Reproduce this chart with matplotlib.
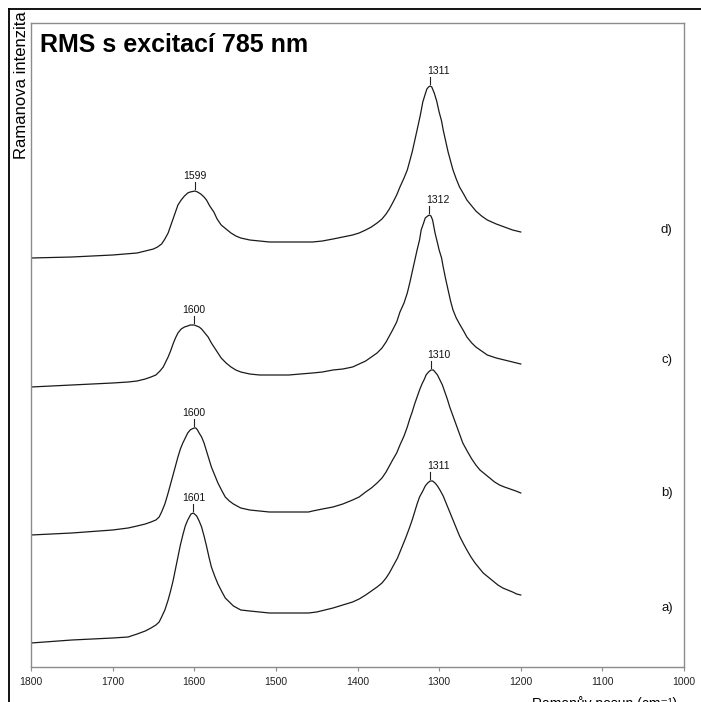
import matplotlib
matplotlib.use("Agg")
import matplotlib.pyplot as plt
from matplotlib.lines import Line2D
import numpy as np

plt.rcParams["font.family"] = ["Liberation Sans", "DejaVu Sans"]

# Raman spectra (wavenumber in cm-1, intensity in arbitrary stacked units)
shift_a = [1800, 1750, 1700, 1681, 1670, 1660, 1653, 1647, 1643, 1640, 1636, 1632, 1629, 1626,
           1623, 1620, 1617, 1614, 1611, 1608, 1604, 1601, 1597, 1594, 1591, 1588, 1585, 1582,
           1579, 1575, 1571, 1566, 1562, 1557, 1552, 1543, 1532, 1520, 1508, 1497, 1484, 1470,
           1460, 1450, 1440, 1430, 1418, 1406, 1398, 1390, 1383, 1376, 1370, 1365, 1361, 1357,
           1351, 1346, 1341, 1336, 1333, 1330, 1327, 1324, 1320, 1317, 1314, 1311, 1308, 1305,
           1302, 1299, 1295, 1291, 1287, 1283, 1279, 1275, 1270, 1266, 1261, 1256, 1251, 1246,
           1240, 1234, 1228, 1222, 1216, 1210, 1205, 1200]
inten_a = [24, 27, 29, 30, 33, 36, 39, 42, 45, 50, 57, 67, 76, 86,
           98, 110, 122, 132, 141, 147, 153, 154, 151, 146, 140, 131, 121, 110,
           100, 91, 83, 75, 69, 65, 61, 57, 56, 55, 54, 54, 54, 54,
           54, 55, 57, 59, 62, 65, 68, 72, 76, 80, 84, 89, 94, 100,
           109, 119, 129, 140, 147, 155, 163, 170, 176, 181, 184, 186, 186, 184,
           181, 177, 171, 163, 155, 147, 139, 131, 123, 117, 110, 104, 99, 94,
           90, 86, 82, 79, 77, 75, 73, 72]

shift_b = [1800, 1750, 1700, 1681, 1670, 1660, 1653, 1647, 1643, 1640, 1636, 1632, 1629, 1626,
           1623, 1620, 1617, 1614, 1611, 1608, 1605, 1603, 1600, 1598, 1596, 1594, 1591, 1588,
           1585, 1582, 1579, 1575, 1571, 1566, 1562, 1557, 1552, 1543, 1532, 1520, 1508, 1497,
           1484, 1470, 1460, 1455, 1443, 1430, 1418, 1406, 1398, 1390, 1383, 1376, 1370, 1365,
           1361, 1357, 1352, 1348, 1343, 1339, 1336, 1333, 1330, 1327, 1324, 1321, 1318, 1316,
           1313, 1310, 1307, 1305, 1302, 1299, 1296, 1293, 1290, 1287, 1283, 1279, 1275, 1271,
           1265, 1260, 1255, 1250, 1244, 1238, 1232, 1226, 1220, 1213, 1206, 1200]
inten_b = [132, 134, 137, 139, 141, 143, 145, 147, 150, 155, 163, 174, 183, 192,
           201, 210, 218, 224, 229, 234, 237, 238, 239, 239, 237, 234, 230, 224,
           216, 208, 200, 192, 184, 176, 170, 166, 163, 159, 157, 156, 155, 155,
           155, 155, 155, 156, 158, 160, 163, 167, 170, 175, 179, 184, 189, 195,
           201, 207, 214, 222, 231, 240, 248, 255, 263, 270, 277, 283, 288, 292,
           295, 297, 297, 295, 292, 287, 282, 275, 268, 260, 251, 242, 233, 224,
           215, 208, 202, 197, 193, 189, 185, 182, 180, 178, 176, 174]

shift_c = [1800, 1750, 1700, 1681, 1670, 1660, 1653, 1647, 1642, 1638, 1635, 1632, 1629, 1626,
           1623, 1620, 1616, 1612, 1608, 1605, 1600, 1597, 1594, 1591, 1588, 1585, 1583, 1579,
           1575, 1571, 1567, 1561, 1555, 1549, 1543, 1532, 1520, 1508, 1497, 1484, 1470, 1455,
           1443, 1430, 1418, 1406, 1398, 1390, 1383, 1376, 1370, 1365, 1361, 1357, 1352, 1348,
           1343, 1339, 1336, 1333, 1330, 1327, 1324, 1322, 1319, 1317, 1314, 1312, 1310, 1308,
           1305, 1302, 1300, 1297, 1295, 1292, 1289, 1286, 1283, 1279, 1275, 1270, 1266, 1260,
           1255, 1248, 1241, 1230, 1220, 1210, 1200]
inten_c = [280, 282, 284, 285, 286, 288, 290, 292, 296, 300, 305, 310, 316, 323,
           329, 334, 338, 340, 341, 342, 342, 341, 340, 338, 335, 332, 330, 324,
           319, 314, 309, 304, 300, 297, 295, 293, 292, 292, 292, 292, 293, 294,
           295, 297, 298, 300, 303, 306, 310, 314, 319, 325, 331, 337, 345, 355,
           364, 374, 384, 395, 406, 417, 427, 437, 444, 449, 451, 452, 451, 447,
           434, 424, 417, 409, 400, 388, 377, 366, 357, 349, 343, 336, 330, 324,
           320, 316, 312, 309, 307, 305, 303]

shift_d = [1800, 1750, 1700, 1670, 1660, 1650, 1645, 1640, 1636, 1632, 1629, 1626, 1623, 1620,
           1616, 1612, 1608, 1605, 1599, 1596, 1592, 1588, 1585, 1581, 1576, 1572, 1567, 1561,
           1555, 1549, 1543, 1532, 1520, 1508, 1497, 1484, 1470, 1455, 1443, 1430, 1418, 1406,
           1398, 1390, 1383, 1376, 1370, 1365, 1361, 1357, 1352, 1348, 1343, 1339, 1336, 1333,
           1330, 1327, 1323, 1320, 1317, 1315, 1313, 1311, 1309, 1306, 1303, 1300, 1297, 1295,
           1292, 1289, 1286, 1283, 1279, 1275, 1270, 1266, 1260, 1255, 1248, 1241, 1230, 1220,
           1210, 1200]
inten_d = [409, 410, 412, 414, 416, 418, 420, 423, 428, 434, 441, 448, 455, 462,
           467, 471, 474, 475, 476, 475, 473, 470, 467, 461, 455, 448, 442, 438,
           434, 431, 429, 427, 426, 425, 425, 425, 425, 425, 426, 428, 430, 432,
           434, 437, 440, 444, 448, 453, 458, 464, 472, 480, 489, 497, 506, 515,
           526, 537, 552, 565, 573, 578, 580, 581, 580, 574, 566, 555, 546, 537,
           526, 515, 506, 497, 488, 480, 473, 467, 461, 456, 451, 447, 443, 440,
           437, 435]

curve_names = ["a)", "b)", "c)", "d)"]
curve_label_levels = [59, 174, 307, 437]
peak_positions = [[1601, 1311], [1600, 1310], [1600, 1312], [1599, 1311]]

shifts = [shift_a, shift_b, shift_c, shift_d]
intens = [inten_a, inten_b, inten_c, inten_d]

fig = plt.figure(figsize=(7.01, 7.02), dpi=100)
ax = fig.add_axes([31 / 701, 35 / 702, 653 / 701, 644 / 702])
ax.set_xlim(1800, 1000)
ax.set_ylim(0, 644)

for x, y, name, level, peaks in zip(shifts, intens, curve_names, curve_label_levels, peak_positions):
    ax.plot(x, y, color="#1a1a1a", lw=0.9, solid_joinstyle="round")
    ax.text(1021, level, name, ha="center", va="center", fontsize=9.5, color="#111111")
    xs = np.array(x)[::-1]
    ys = np.array(y)[::-1]
    for p in peaks:
        top = np.interp(p, xs, ys)
        ax.plot([p, p], [top + 2, top + 9], color="#222222", lw=0.8)
        dx = -10 if p < 1400 else 0
        ax.text(p + dx, top + 12, str(p), ha="center", va="baseline", fontsize=7.5, color="#111111")

for side in ["left", "right", "top", "bottom"]:
    ax.spines[side].set_color("#8c8c8c")
    ax.spines[side].set_linewidth(1.0)
ax.set_yticks([])
ax.set_xticks(range(1800, 999, -100))
ax.tick_params(axis="x", length=3, width=0.8, color="#8c8c8c", labelsize=7.5, pad=4, labelcolor="#222222")

fig.text(40 / 701, 1 - 52 / 702, "RMS s excitací 785 nm", fontsize=18, fontweight="bold", va="baseline", ha="left")
fig.text(26.5 / 701, 1 - 11 / 702, "Ramanova intenzita", rotation=90, rotation_mode="anchor",
         fontsize=12, va="baseline", ha="right")
fig.text(605 / 701, 1 - 696 / 702, "Ramanův posun (cm⁻¹)", fontsize=10, va="top", ha="center")

# outer frame of the original figure
fig.add_artist(Line2D([9 / 701, 9 / 701], [0, 1 - 9 / 702], color="black", lw=1.3, transform=fig.transFigure))
fig.add_artist(Line2D([9 / 701, 1], [1 - 9 / 702, 1 - 9 / 702], color="black", lw=1.3, transform=fig.transFigure))

fig.savefig("out.png", dpi=100)
